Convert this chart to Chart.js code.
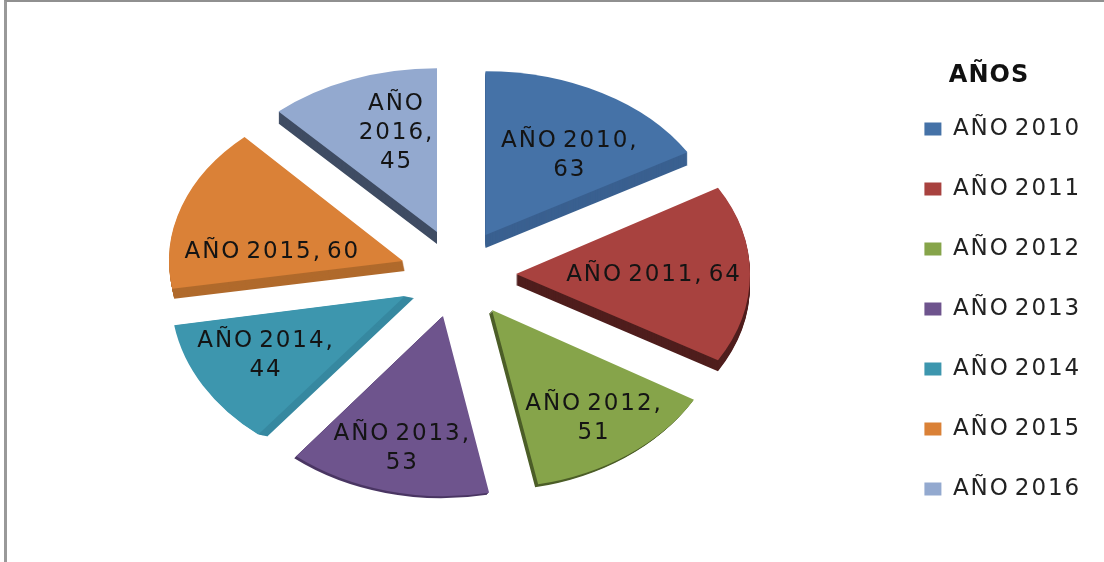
<!DOCTYPE html>
<html><head><meta charset="utf-8">
<style>html,body{margin:0;padding:0;background:#fff}#w{position:relative;width:1104px;height:562px;overflow:hidden}
#f{position:absolute;left:4px;top:0;width:1100px;height:562px;border-left:3px solid #999;border-top:2px solid #909090;box-sizing:border-box;pointer-events:none}</style>
<script src="https://cdn.jsdelivr.net/npm/chart.js@4"></script>
</head><body><div id="w"><canvas id="c" width="1104" height="562"></canvas><div id="f"></div></div>
<script>
const categories=['AÑO 2010','AÑO 2011','AÑO 2012','AÑO 2013','AÑO 2014','AÑO 2015','AÑO 2016'];
const values=[63,64,51,53,44,60,45];
const legendTitle='AÑOS';
const topColors=['#4572A7','#A8423F','#86A44A','#6E548D','#3D96AE','#DA8137','#93A9CF'];
const sideColors=['#3A6090','#4F1E1D','#4C5E28','#4A3663','#3688A0','#B06A2C','#3F4C63'];
const labelLines=[['AÑO 2010,','63'],['AÑO 2011, 64'],['AÑO 2012,','51'],['AÑO 2013,','53'],['AÑO 2014,','44'],['AÑO 2015, 60'],['AÑO','2016,','45']];
const explode=[[25.5,-39],[56,0],[32,36],[-17,42],[-55,22],[-57,-13],[-23,-42]];
const tilt=[0.70,0.73,0.76,0.77,0.76,0.72,0.70];
const depth=[[0,13],[0,11],[-3,3],[-2,2],[9,2],[2,10],[0,12]];
const labelShift=[[26,-8],[21,1],[34,36],[-13,45],[-38,15],[-20,18],[2,-23]];
const CX=460,CY=274;
const FACE='"DejaVu Sans"';
const LS='1.9px',WS='-4px';
const spacing=c=>{c.ctx.letterSpacing=LS;c.ctx.wordSpacing=WS;};
const pie3d={id:'pie3d',
 beforeUpdate:spacing,beforeDraw:spacing,
 beforeDatasetsDraw(chart){
  const ctx=chart.ctx,m=chart.getDatasetMeta(0);
  const place=(el,i,dx,dy)=>{ctx.translate(CX+explode[i][0]-el.x+dx,CY+explode[i][1]+dy);ctx.scale(1,tilt[i]);ctx.translate(0,-el.y);};
  m.data.forEach((el,i)=>{
   const [dx,dy]=depth[i],n=Math.max(Math.abs(dx),Math.abs(dy));
   const ghost=Object.create(el);
   ghost.options=Object.assign({},el.options,{backgroundColor:sideColors[i]});
   for(let s=n;s>=1;s--){
    ctx.save();place(el,i,dx*s/n,dy*s/n);
    Chart.ArcElement.prototype.draw.call(ghost,ctx);
    ctx.restore();
   }
  });
  m.data.forEach((el,i)=>{ctx.save();place(el,i,0,0);el.draw(ctx);ctx.restore();});
  ctx.save();
  ctx.font='23px '+FACE;ctx.fillStyle='#141414';ctx.textAlign='center';ctx.textBaseline='middle';
  m.data.forEach((el,i)=>{
   const mid=(el.startAngle+el.endAngle)/2,r=el.outerRadius/2;
   const x=CX+explode[i][0]+r*Math.cos(mid)+labelShift[i][0];
   const y=CY+explode[i][1]+tilt[i]*r*Math.sin(mid)+labelShift[i][1];
   const L=labelLines[i],lh=29;
   L.forEach((t,k)=>ctx.fillText(t,x,y+(k-(L.length-1)/2)*lh));
  });
  ctx.font='bold 24px '+FACE;ctx.letterSpacing='1px';ctx.fillStyle='#111';
  ctx.fillText(legendTitle,989,76);
  ctx.restore();
  ctx.letterSpacing=LS;
  return false;
 }};
new Chart(document.getElementById('c'),{
 type:'pie',
 data:{labels:categories,datasets:[{data:values,backgroundColor:topColors,borderWidth:0,radius:234}]},
 plugins:[pie3d],
 options:{responsive:false,animation:false,events:[],
  layout:{padding:{left:11,right:13,top:56}},
  plugins:{tooltip:{enabled:false},
   legend:{position:'right',
    labels:{color:'#222',font:{family:FACE,size:23},boxWidth:17,boxHeight:13,padding:37}}}}
});
</script></body></html>
